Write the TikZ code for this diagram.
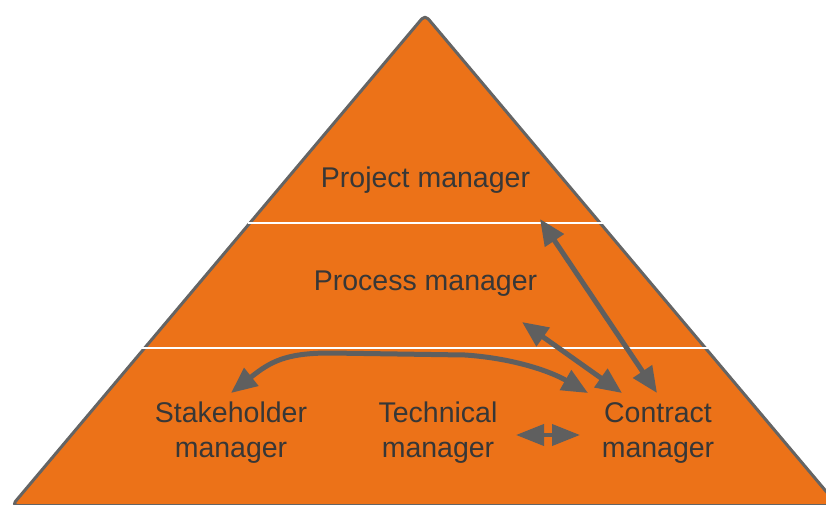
\documentclass[tikz,border=0pt]{standalone}
\usepackage{fontspec}
\setmainfont{Liberation Sans}
\usetikzlibrary{arrows.meta}
\definecolor{pyrorange}{RGB}{236,114,24}
\definecolor{edgegray}{RGB}{100,100,100}
\definecolor{arrgray}{RGB}{95,95,95}
\definecolor{txtgray}{RGB}{55,55,55}
\tikzset{
  lbl/.style={text=txtgray, font=\fontsize{28.5}{35}\selectfont, inner sep=0pt, align=center},
  dbl/.style={draw=arrgray, line width=5pt, {Triangle[length=26pt,width=22pt]}-{Triangle[length=26pt,width=22pt]}},
  sep/.style={draw=white, line width=2pt}
}
\begin{document}
\begin{tikzpicture}[x=1pt,y=-1pt]
\useasboundingbox (0,0) rectangle (826,505);
\begin{scope}
\clip (0,0) rectangle (826,505);
\draw[fill=pyrorange, draw=edgegray, line width=3pt, rounded corners=5pt, line join=round]
  (425,15) -- (12,505.5) -- (838,505.5) -- cycle;
\end{scope}
\coordinate (l1a) at (248,223);
\coordinate (l1b) at (603,223);
\coordinate (l2a) at (141,348);
\coordinate (l2b) at (708,348);
\draw[sep] (l1a) -- (l1b);
\draw[sep] (l2a) -- (l2b);
\node[lbl, anchor=base] (proj) at (425.5,187) {Project manager};
\node[lbl, anchor=base] (proc) at (425.5,290) {Process manager};
\node[lbl] (stk) at (231,433) {Stakeholder\\manager};
\node[lbl] (tech) at (438,433) {Technical\\manager};
\node[lbl] (con) at (658,433) {Contract\\manager};
\coordinate (a1s) at (540,219);
\coordinate (a1e) at (657,393);
\coordinate (a2s) at (522,322);
\coordinate (a2e) at (622,393);
\coordinate (a3s) at (231,393);
\coordinate (a3e) at (588,393);
\coordinate (a4s) at (516,435);
\coordinate (a4e) at (580,435);
\draw[dbl] (a1s) -- (a1e);
\draw[dbl] (a2s) -- (a2e);
\draw[dbl] (a3s) .. controls (270,362) and (285,353) .. (330,353) -- (465,355) .. controls (510,358) and (548,370) .. (a3e);
\draw[draw=arrgray, line width=4pt, {Triangle[length=28pt,width=21pt]}-{Triangle[length=28pt,width=21pt]}] (a4s) -- (a4e);
\end{tikzpicture}
\end{document}
